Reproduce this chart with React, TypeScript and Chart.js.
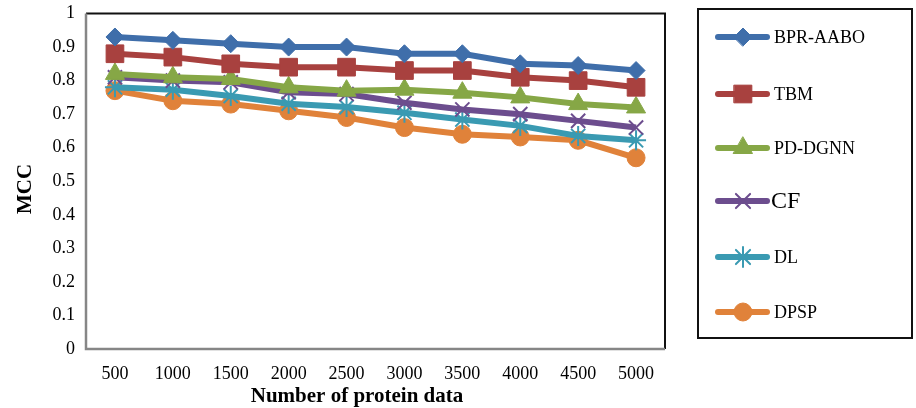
import React, { useEffect, useRef } from "react";
import { Chart, registerables } from "chart.js";
import { drawPoint } from "chart.js/helpers";

Chart.register(...registerables);

const categories = ["500", "1000", "1500", "2000", "2500", "3000", "3500", "4000", "4500", "5000"];
const bprAabo = [0.93, 0.92, 0.91, 0.90, 0.90, 0.88, 0.88, 0.85, 0.845, 0.83];
const tbm = [0.88, 0.87, 0.85, 0.84, 0.84, 0.83, 0.83, 0.81, 0.80, 0.78];
const pdDgnn = [0.82, 0.81, 0.805, 0.78, 0.77, 0.773, 0.764, 0.75, 0.73, 0.72];
const cf = [0.81, 0.80, 0.795, 0.765, 0.76, 0.734, 0.714, 0.70, 0.68, 0.66];
const dl = [0.78, 0.773, 0.754, 0.731, 0.721, 0.704, 0.684, 0.665, 0.635, 0.622];
const dpsp = [0.77, 0.74, 0.73, 0.71, 0.69, 0.66, 0.64, 0.632, 0.622, 0.57];

const seriesNames = ["BPR-AABO", "TBM", "PD-DGNN", "CF", "DL", "DPSP"];
const seriesData = [bprAabo, tbm, pdDgnn, cf, dl, dpsp];
const colors = ["#3F6EAA", "#A8413F", "#86A746", "#6C4D8E", "#3A9AB2", "#E0823A"];
const pointStyles = ["rectRot", "rect", "triangle", "crossRot", "star", "circle"];
const pointRadii = [9, 12.5, 11, 10, 10, 9];
const xTitle = "Number of protein data";
const yTitle = "MCC";

const FONT = "'Liberation Serif', 'Times New Roman', serif";

const thinStyle = (s: string) => s === "crossRot" || s === "star";

const frame = {
  id: "frame",
  afterDatasetsDraw(chart: any) {
    const { ctx, chartArea: a } = chart;
    ctx.save();
    ctx.strokeStyle = "#111";
    ctx.lineWidth = 2;
    ctx.beginPath();
    ctx.moveTo(a.left, a.top);
    ctx.lineTo(a.right, a.top);
    ctx.lineTo(a.right, a.bottom);
    ctx.stroke();
    ctx.strokeStyle = "#868686";
    ctx.lineWidth = 2.5;
    ctx.beginPath();
    ctx.moveTo(a.left, a.top);
    ctx.lineTo(a.left, a.bottom);
    ctx.lineTo(a.right, a.bottom);
    ctx.stroke();
    // axis titles
    ctx.fillStyle = "#000";
    ctx.font = `bold 21px ${FONT}`;
    ctx.textAlign = "center";
    ctx.textBaseline = "middle";
    ctx.fillText(xTitle, 357, 397);
    ctx.translate(26, 189);
    ctx.rotate(-Math.PI / 2);
    ctx.fillText(yTitle, 0, 0);
    ctx.restore();
  },
};

const customLegend = {
  id: "customLegend",
  afterDraw(chart: any) {
    const ctx = chart.ctx;
    ctx.save();
    ctx.strokeStyle = "#111";
    ctx.lineWidth = 2;
    ctx.strokeRect(698, 9, 214, 329);
    const ys = [37, 94, 148, 201, 257, 312];
    seriesNames.forEach((name, i) => {
      const y = ys[i];
      ctx.strokeStyle = colors[i];
      ctx.lineWidth = 6;
      ctx.lineCap = "round";
      ctx.beginPath();
      ctx.moveTo(718, y);
      ctx.lineTo(767, y);
      ctx.stroke();
      ctx.fillStyle = colors[i];
      ctx.strokeStyle = colors[i];
      ctx.lineWidth = thinStyle(pointStyles[i]) ? 2 : 1;
      drawPoint(ctx, { pointStyle: pointStyles[i], radius: pointRadii[i], borderWidth: ctx.lineWidth, rotation: 0 } as any, 743, y);
      ctx.fillStyle = "#000";
      ctx.textBaseline = "middle";
      ctx.textAlign = "left";
      ctx.font = name === "CF" ? `24px ${FONT}` : `18px ${FONT}`;
      ctx.fillText(name, name === "CF" ? 771 : 774, y + 1);
    });
    ctx.restore();
  },
};

export default function App() {
  const ref = useRef<HTMLCanvasElement>(null);
  useEffect(() => {
    document.body.style.margin = "0";
    const chart = new Chart(ref.current!, {
      type: "line",
      data: {
        labels: categories,
        datasets: seriesNames.map((name, i) => ({
          label: name,
          data: seriesData[i],
          borderColor: colors[i],
          backgroundColor: colors[i],
          borderWidth: 6,
          pointStyle: pointStyles[i] as any,
          pointRadius: pointRadii[i],
          pointBorderWidth: thinStyle(pointStyles[i]) ? 2 : 1,
          pointBorderColor: colors[i],
          pointBackgroundColor: colors[i],
          tension: 0,
          clip: false as any,
        })),
      },
      options: {
        animation: false,
        responsive: false,
        layout: { padding: { top: 12, right: 251, left: 0, bottom: 0 } },
        plugins: { legend: { display: false }, tooltip: { enabled: false } },
        scales: {
          x: {
            offset: true,
            grid: { display: false, drawTicks: false },
            border: { display: false },
            ticks: { color: "#000", font: { family: FONT, size: 18 }, padding: 14, maxRotation: 0 },
            afterFit(scale: any) { scale.height = 59; scale.paddingLeft = 0; scale.paddingRight = 0; },
          },
          y: {
            min: 0,
            max: 1,
            grid: { display: false, drawTicks: false },
            border: { display: false },
            ticks: { stepSize: 0.1, color: "#000", font: { family: FONT, size: 18 }, padding: 11, callback: (v: any) => String(Math.round(Number(v) * 10) / 10) },
            afterFit(scale: any) { scale.width = 86; scale.paddingTop = 0; scale.paddingBottom = 0; },
          },
        },
      },
      plugins: [frame, customLegend],
    });
    return () => chart.destroy();
  }, []);
  return (
    <div style={{ position: "fixed", left: 0, top: 0, width: 916, height: 408, background: "#fff" }}>
      <canvas ref={ref} width={916} height={408} style={{ width: 916, height: 408 }} />
    </div>
  );
}
